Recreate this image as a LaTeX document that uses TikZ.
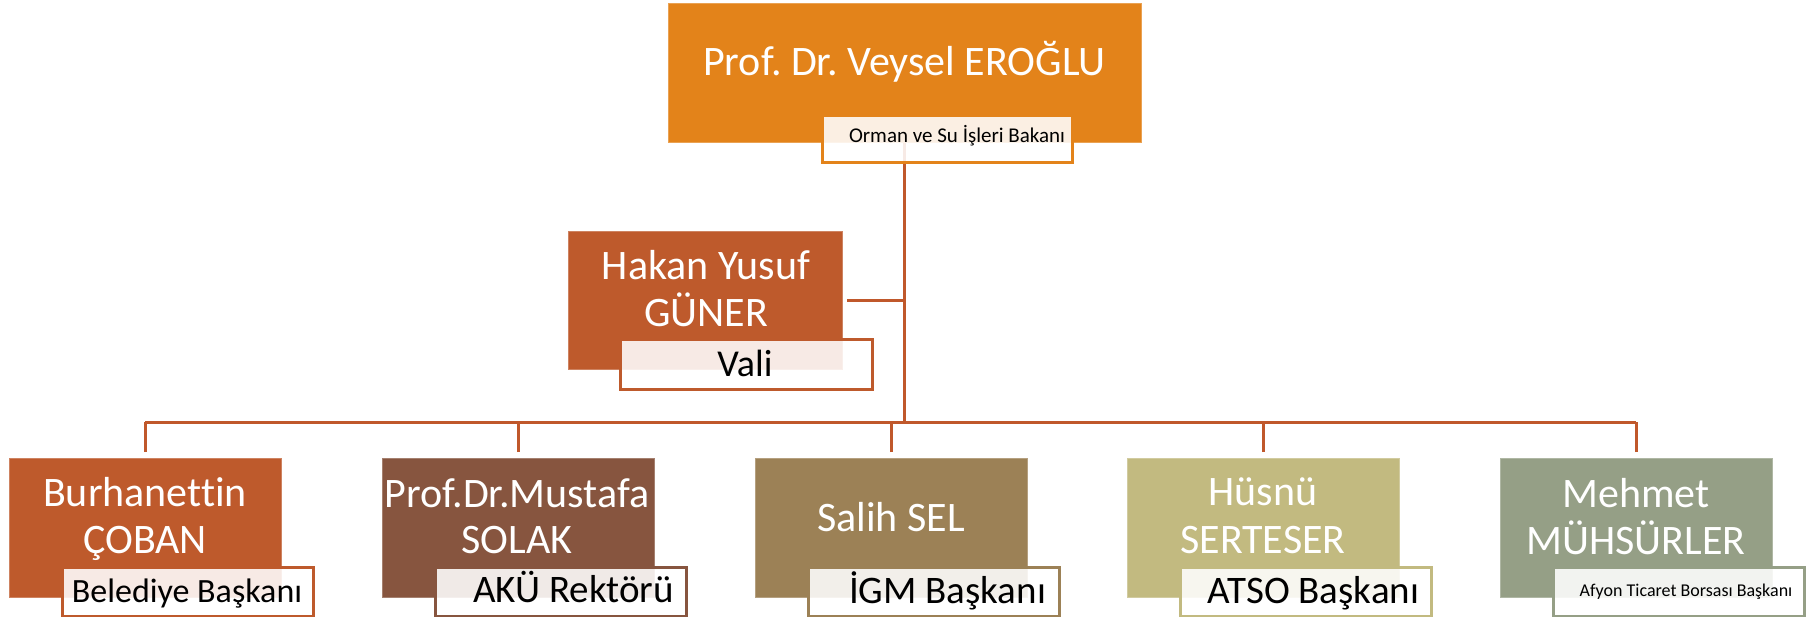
\documentclass[tikz,border=0pt]{standalone}
\usepackage{fontspec}
\setmainfont{Carlito}[Ligatures=NoCommon]
\frenchspacing
\pgfdeclarelayer{background}
\pgfsetlayers{background,main}
\definecolor{cOrange}{HTML}{E3831A}
\definecolor{cRust}{HTML}{BE5A2C}
\definecolor{cBrown}{HTML}{87553F}
\definecolor{cTan}{HTML}{9C8156}
\definecolor{cOlive}{HTML}{C2BA80}
\definecolor{cSage}{HTML}{959F86}
\definecolor{cLine}{HTML}{C0582B}
\tikzset{
 box/.style={rectangle, inner sep=0pt, outer sep=0pt, minimum width=272pt, minimum height=139pt, fill=#1, draw=#1!75!white, line width=1pt},
 lbl/.style={rectangle, inner sep=0pt, outer sep=0pt, minimum width=251pt, minimum height=49pt, fill=white, fill opacity=0.88, draw=#1, draw opacity=1, line width=3pt},
 nm/.style={anchor=base, text=white, inner sep=0pt, font=\fontsize{42}{47}\selectfont},
 lt/.style={anchor=base, text=black, inner sep=0pt, font=\fontsize{#1}{#1}\selectfont},
 conn/.style={draw=cLine, line width=3pt},
}
\begin{document}
\begin{tikzpicture}[x=1pt,y=-1pt]
\useasboundingbox (0,0) rectangle (1817,617);
% top
\node[box=cOrange, minimum width=473pt, minimum height=139pt] (top) at (904.5,73.5) {};
\node[lbl=cOrange, minimum width=250pt, minimum height=47pt] (topl) at (947,139.5) {};
% vali
\node[box=cRust, minimum width=274pt, minimum height=137pt] (hakan) at (705,300.5) {};
\node[lbl=cRust, minimum width=252pt] (hakanl) at (746,364.5) {};
% bottom row
\node[box=cRust] (b1) at (145,527.5) {};
\node[lbl=cRust] (b1l) at (187.5,591.5) {};
\node[box=cBrown] (b2) at (518,527.5) {};
\node[lbl=cBrown] (b2l) at (560.5,591.5) {};
\node[box=cTan] (b3) at (891,527.5) {};
\node[lbl=cTan] (b3l) at (933.5,591.5) {};
\node[box=cOlive] (b4) at (1263,527.5) {};
\node[lbl=cOlive] (b4l) at (1305.5,591.5) {};
\node[box=cSage] (b5) at (1636,527.5) {};
\node[lbl=cSage] (b5l) at (1678.5,591.5) {};
% connectors
\coordinate (busL) at (145,422);
\begin{pgfonlayer}{background}
\draw[conn] (top.south) -- (top.south |- busL);
\draw[conn] ([xshift=5pt]hakan.east) -- (hakan.east -| top.south);
\draw[conn] (b1.north |- busL) -- (b5.north |- busL);
\foreach \b in {b1,b2,b3,b4,b5}{
  \draw[conn] ([yshift=6pt]\b.north) -- (\b.north |- busL);
}
\end{pgfonlayer}
% names
\node[nm] (ttop) at (904.5,76) {Prof. Dr. Veysel EROĞLU};
\node[nm] (thak1) at (706,280) {Hakan Yusuf};
\node[nm] (thak2) at (706,327) {GÜNER};
\node[nm] (t1a) at (145,506) {Burhanettin};
\node[nm] (t1b) at (145,553) {ÇOBAN};
\node[nm] (t2a) at (517,507) {Prof.Dr.Mustafa};
\node[nm] (t2b) at (517,553) {SOLAK};
\node[nm] (t3) at (891,531) {Salih SEL};
\node[nm] (t4a) at (1263,505) {Hüsnü};
\node[nm] (t4b) at (1263,553) {SERTESER};
\node[nm] (t5a) at (1636,507) {Mehmet};
\node[nm] (t5b) at (1636,554) {MÜHSÜRLER};
% label texts
\node[lt=21] (ltop) at (957,143) {Orman ve Su İşleri Bakanı};
\node[lt=38] (lhak) at (745,376) {Vali};
\node[lt=34] (l1) at (187,602) {Belediye Başkanı};
\node[lt=39] (l2) at (573.5,602) {AKÜ Rektörü};
\node[lt=39] (l3) at (947.5,603) {İGM Başkanı};
\node[lt=39] (l4) at (1313.5,603) {ATSO Başkanı};
\node[lt=18] (l5) at (1686,596) {Afyon Ticaret Borsası Başkanı};
\end{tikzpicture}
\end{document}
